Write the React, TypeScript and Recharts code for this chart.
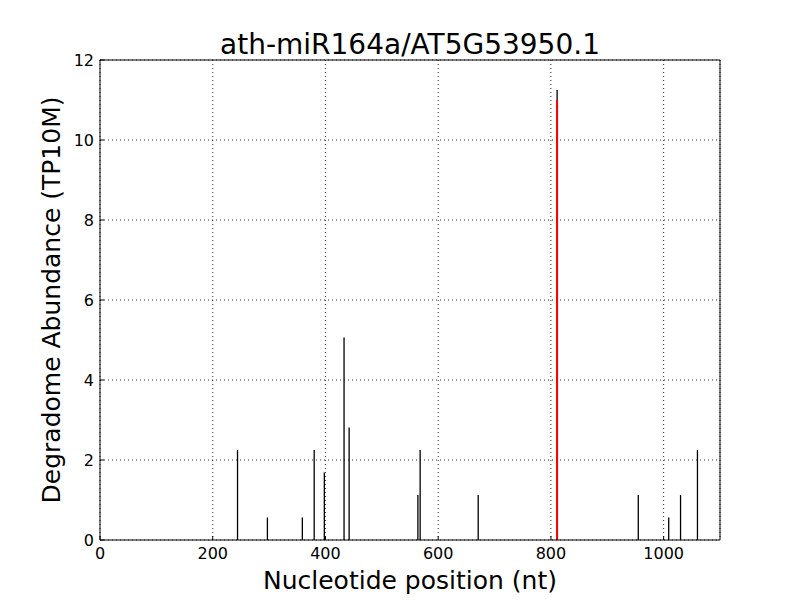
import type { ReactElement } from 'react'
import {
  ComposedChart,
  Scatter,
  XAxis,
  YAxis,
  CartesianGrid,
  ReferenceLine,
} from 'recharts'

// Degradome peaks
const positions = [244, 297, 359, 380, 398, 433, 442, 564, 568, 671, 811, 955, 1009, 1030, 1060]
const abundance = [2.25, 0.5625, 0.5625, 2.25, 1.6875, 5.0625, 2.8125, 1.125, 2.25, 1.125, 11.25, 1.125, 0.5625, 1.125, 2.25]

// predicted cleavage site (red)
const targetPosition = [811]
const targetAbundance = [11]

const xTicks = [0, 200, 400, 600, 800, 1000]
const yTicks = [0, 2, 4, 6, 8, 10, 12]

const title = 'ath-miR164a/AT5G53950.1'
const FONT = '"DejaVu Sans", sans-serif'

const peaks = positions.map((x, i) => ({ x, y: abundance[i] }))
const targets = targetPosition.map((x, i) => ({ x, y: targetAbundance[i] }))

export default function App(): ReactElement {
  const tickStyle = { fontSize: 16, fill: '#000', fontFamily: FONT }
  return (
    <div style={{ position: 'absolute', left: 0, top: 0, width: 800, height: 600, background: '#fff' }}>
      <ComposedChart width={800} height={600} margin={{ top: 0, right: 0, bottom: 0, left: 0 }}>
        <CartesianGrid stroke="#333" strokeDasharray="1 3" />
        <XAxis
          type="number"
          dataKey="x"
          domain={[0, 1100]}
          ticks={xTicks}
          height={60}
          tickSize={-4}
          tickMargin={12}
          stroke="#000"
          tick={tickStyle}
          label={{ value: 'Nucleotide position (nt)', position: 'insideBottom', offset: 11, style: { fontSize: 25, fill: '#000', fontFamily: FONT } }}
        />
        <XAxis
          xAxisId="top"
          orientation="top"
          type="number"
          dataKey="x"
          domain={[0, 1100]}
          ticks={xTicks}
          height={60}
          tickSize={-4}
          stroke="#000"
          tickFormatter={() => ''}
          label={{ value: title, position: 'insideBottom', offset: 6, style: { fontSize: 28, fill: '#000', fontFamily: FONT } }}
        />
        <YAxis
          type="number"
          dataKey="y"
          domain={[0, 12]}
          ticks={yTicks}
          width={100}
          tickSize={-4}
          tickMargin={10}
          stroke="#000"
          tick={tickStyle}
          label={{ value: 'Degradome Abundance (TP10M)', angle: -90, position: 'insideLeft', offset: 51, style: { fontSize: 25, fill: '#000', fontFamily: FONT, textAnchor: 'middle' } }}
        />
        <YAxis
          yAxisId="right"
          orientation="right"
          type="number"
          dataKey="y"
          domain={[0, 12]}
          ticks={yTicks}
          width={80}
          tickSize={-4}
          stroke="#000"
          tickFormatter={() => ''}
        />
        <Scatter data={peaks} dataKey="y" fill="none" shape={() => <g />} isAnimationActive={false} />
        {peaks.map((p, i) => (
          <ReferenceLine
            key={`peak-${i}`}
            segment={[{ x: p.x, y: 0 }, { x: p.x, y: p.y }]}
            stroke="#000"
            strokeWidth={1.3}
          />
        ))}
        {targets.map((p, i) => (
          <ReferenceLine
            key={`target-${i}`}
            segment={[{ x: p.x, y: 0 }, { x: p.x, y: p.y }]}
            stroke="#ff0000"
            strokeWidth={2}
          />
        ))}
      </ComposedChart>
    </div>
  )
}
